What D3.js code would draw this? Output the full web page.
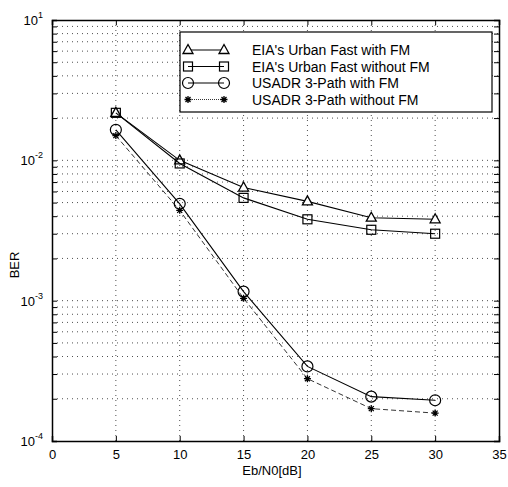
<!DOCTYPE html>
<html>
<head>
<meta charset="utf-8">
<script src="https://cdn.jsdelivr.net/npm/d3@7"></script>
<style>
  body { margin: 0; background: #fff; }
  text { font-family: "Liberation Sans", Arial, sans-serif; fill: #000; }
</style>
</head>
<body>
<div id="chart"></div>
<script>
var svgWidth = 508;
var svgHeight = 487;

var margin = { top: 20, right: 9, bottom: 46, left: 52 };
var width = svgWidth - margin.left - margin.right;
var height = svgHeight - margin.top - margin.bottom;

// data
var snr = [5, 10, 15, 20, 25, 30];
var eiaWithFM = [0.0218, 0.0100, 0.0064, 0.0051, 0.0039, 0.0038];
var eiaWithoutFM = [0.0218, 0.0095, 0.0054, 0.0038, 0.0032, 0.0030];
var usadrWithFM = [0.0165, 0.0049, 0.00116, 0.00034, 0.000207, 0.000195];
var usadrWithoutFM = [0.0150, 0.0044, 0.00104, 0.000278, 0.000170, 0.000158];
var seriesNames = ["EIA's Urban Fast with FM", "EIA's Urban Fast without FM",
  "USADR 3-Path with FM", "USADR 3-Path without FM"];
var xTicks = [0, 5, 10, 15, 20, 25, 30, 35];
var yTicks = [1e-4, 1e-3, 1e-2, 1e-1];
var yTickExp = ["-4", "-3", "-2", "1"];

var svg = d3.select("#chart")
  .append("svg")
  .attr("width", svgWidth)
  .attr("height", svgHeight);

var chartGroup = svg.append("g")
  .attr("transform", `translate(${margin.left}, ${margin.top})`);

var xScale = d3.scaleLinear().domain([0, 35]).range([0, width]);
var yScale = d3.scaleLog().domain([1e-4, 1e-1]).range([height, 0]);

// minor log ticks
var yMinor = [];
[1e-4, 1e-3, 1e-2].forEach(function(d) {
  for (var k = 2; k <= 9; k++) yMinor.push(d * k);
});

// grid
var grid = chartGroup.append("g")
  .attr("stroke", "#222")
  .attr("stroke-width", 0.8)
  .attr("stroke-dasharray", "1,4");

grid.selectAll(".gx")
  .data(xTicks.slice(1, -1))
  .enter()
  .append("line")
  .attr("x1", d => xScale(d))
  .attr("x2", d => xScale(d))
  .attr("y1", 0)
  .attr("y2", height);

grid.selectAll(".gy")
  .data(yMinor.concat(yTicks.slice(1, -1)))
  .enter()
  .append("line")
  .attr("x1", 0)
  .attr("x2", width)
  .attr("y1", d => yScale(d))
  .attr("y2", d => yScale(d));

// axes
var bottomAxis = d3.axisBottom(xScale).tickValues(xTicks).tickSize(-5).tickPadding(9);
var topAxis = d3.axisTop(xScale).tickValues(xTicks).tickSize(-5).tickFormat("");
var leftAxis = d3.axisLeft(yScale).tickValues(yTicks.concat(yMinor)).tickSize(-5).tickFormat("");
var rightAxis = d3.axisRight(yScale).tickValues(yTicks.concat(yMinor)).tickSize(-5).tickFormat("");

function styleAxis(g) {
  g.select(".domain").attr("stroke", "#000").attr("stroke-width", 1.5);
  g.selectAll(".tick line").attr("stroke", "#000");
  g.selectAll(".tick text")
    .attr("font-size", "13px")
    .attr("font-family", "Liberation Sans, Arial, sans-serif")
    .attr("fill", "#000");
}

chartGroup.append("g")
  .attr("transform", `translate(0, ${height})`)
  .call(bottomAxis)
  .call(styleAxis);

chartGroup.append("g").call(topAxis).call(styleAxis);
chartGroup.append("g").call(leftAxis).call(styleAxis);
chartGroup.append("g")
  .attr("transform", `translate(${width}, 0)`)
  .call(rightAxis)
  .call(styleAxis);

// y tick labels as 10^n
var yLabels = chartGroup.selectAll(".ylab")
  .data(yTicks)
  .enter()
  .append("text")
  .attr("x", -9)
  .attr("y", d => yScale(d) + 5)
  .attr("text-anchor", "end")
  .attr("font-size", "13px");

yLabels.append("tspan").text("10");
yLabels.append("tspan")
  .attr("dy", -7)
  .attr("font-size", "9px")
  .text((d, i) => yTickExp[i]);

// axis titles
chartGroup.append("text")
  .attr("x", 220)
  .attr("y", height + 34)
  .attr("text-anchor", "middle")
  .attr("font-size", "13px")
  .text("Eb/N0[dB]");

chartGroup.append("text")
  .attr("transform", `translate(-33, ${245})rotate(-90)`)
  .attr("text-anchor", "middle")
  .attr("font-size", "13px")
  .text("BER");

// series
var allSeries = [eiaWithFM, eiaWithoutFM, usadrWithFM, usadrWithoutFM];
var markers = ["triangle", "square", "circle", "star"];
var dashes = [null, null, null, "5,3"];
var widths = [1.1, 1.1, 1.1, 0.8];

var line = d3.line()
  .x((d, i) => xScale(snr[i]))
  .y(d => yScale(d));

function drawMarker(g, type, x, y) {
  if (type === "triangle") {
    g.append("path")
      .attr("d", `M${x},${y - 5.5}L${x + 5},${y + 3.5}L${x - 5},${y + 3.5}Z`)
      .attr("fill", "#fff").attr("stroke", "#000").attr("stroke-width", 1.3);
  } else if (type === "square") {
    g.append("rect")
      .attr("x", x - 4.5).attr("y", y - 4.5)
      .attr("width", 9).attr("height", 9)
      .attr("fill", "none").attr("stroke", "#000").attr("stroke-width", 1.2);
  } else if (type === "circle") {
    g.append("circle")
      .attr("cx", x).attr("cy", y).attr("r", 5.5)
      .attr("fill", "none").attr("stroke", "#000").attr("stroke-width", 1.2);
  } else {
    g.append("path")
      .attr("d", `M${x - 3.5},${y}L${x + 3.5},${y}M${x},${y - 3.5}L${x},${y + 3.5}` +
        `M${x - 2.5},${y - 2.5}L${x + 2.5},${y + 2.5}M${x - 2.5},${y + 2.5}L${x + 2.5},${y - 2.5}`)
      .attr("stroke", "#000").attr("stroke-width", 1.3);
  }
}

allSeries.forEach(function(values, s) {
  chartGroup.append("path")
    .datum(values)
    .attr("d", line)
    .attr("fill", "none")
    .attr("stroke", "#000")
    .attr("stroke-width", widths[s])
    .attr("stroke-dasharray", dashes[s]);
  var mg = chartGroup.append("g");
  values.forEach(function(v, i) {
    drawMarker(mg, markers[s], xScale(snr[i]), yScale(v));
  });
});

// legend
var legend = chartGroup.append("g")
  .attr("transform", "translate(128, 12)");

legend.append("rect")
  .attr("width", 312)
  .attr("height", 80)
  .attr("fill", "#fff")
  .attr("stroke", "#000")
  .attr("stroke-width", 1.2);

seriesNames.forEach(function(name, s) {
  var y = 18 + s * 16.5;
  legend.append("line")
    .attr("x1", 8).attr("x2", 44)
    .attr("y1", y).attr("y2", y)
    .attr("stroke", "#000")
    .attr("stroke-width", s === 3 ? 0.8 : 1.1)
    .attr("stroke-dasharray", s === 3 ? "1,1" : null);
  drawMarker(legend, markers[s], 8, y);
  drawMarker(legend, markers[s], 44, y);
  legend.append("text")
    .attr("x", 72)
    .attr("y", y + 5)
    .attr("font-size", "14px")
    .text(name);
});
</script>
</body>
</html>
